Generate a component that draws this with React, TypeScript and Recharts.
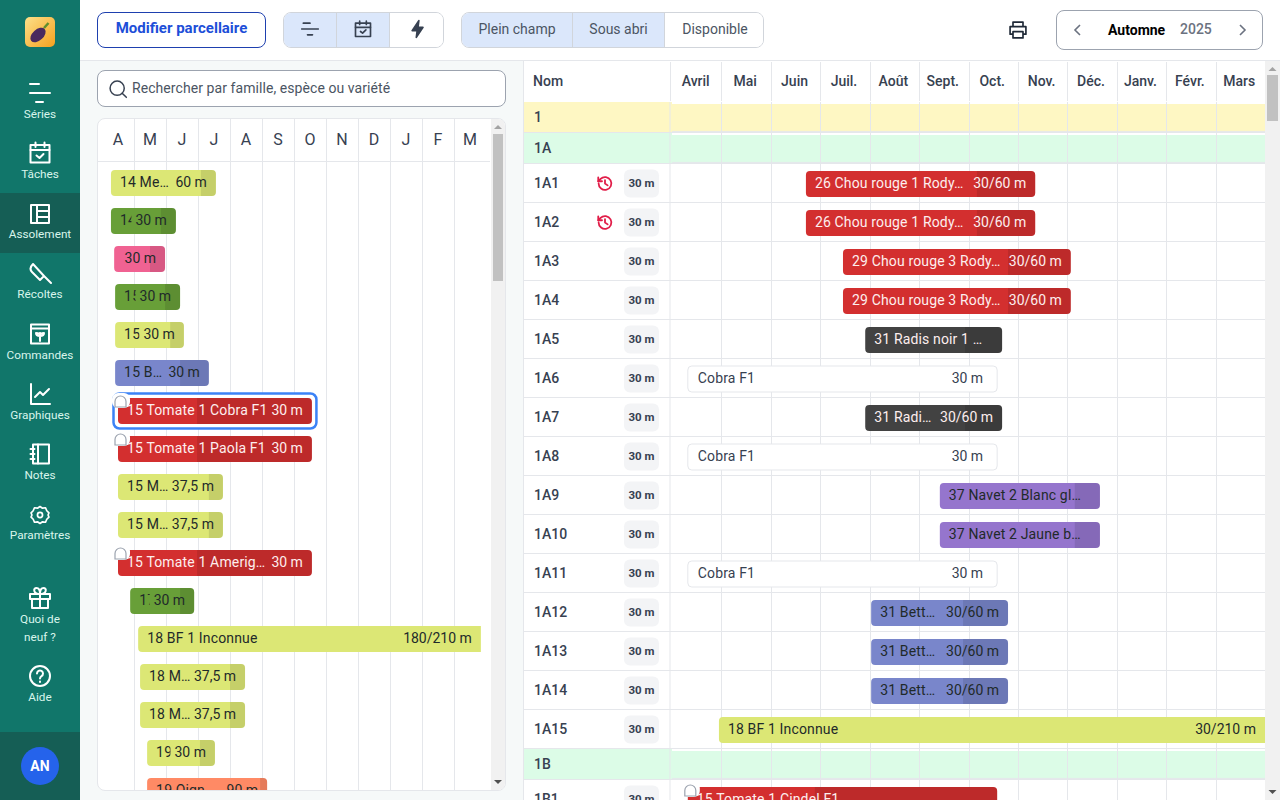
import React from "react";
import { BarChart, Bar, XAxis, YAxis, CartesianGrid } from "recharts";

// left panel: series waiting to be placed, values in months from April
const poolCodes = ["p1", "p2", "p3", "p4", "p5", "p6", "p7", "p8", "p9", "p10", "p11", "p12", "p13", "p14", "p15", "p16", "p17"];
const poolNames = ["14 Me…", "14 Fève 1", "", "15 Fève 2", "15 Mesclun", "15 B…", "15 Tomate 1 Cobra F1", "15 Tomate 1 Paola F1", "15 M…", "15 M…", "15 Tomate 1 Amerig…", "17 Fève 3", "18 BF 1 Inconnue", "18 M…", "18 M…", "19 Mesclun", "19 Oign…"];
const poolLengths = ["60 m", "30 m", "30 m", "30 m", "30 m", "30 m", "30 m", "30 m", "37,5 m", "37,5 m", "30 m", "30 m", "180/210 m", "37,5 m", "37,5 m", "30 m", "90 m"];
const poolCrops = ["lime", "green", "pink", "green", "lime", "blue", "red", "red", "lime", "lime", "red", "green", "lime", "lime", "lime", "lime", "orange"];
const poolStarts = [0.28, 0.28, 0.38, 0.41, 0.41, 0.41, 0.5, 0.5, 0.5, 0.5, 0.5, 0.88, 1.13, 1.19, 1.19, 1.41, 1.41];
const poolEnds = [3.56, 2.31, 1.97, 2.44, 2.56, 3.34, 6.56, 6.56, 3.78, 3.78, 6.56, 2.88, 11.84, 4.47, 4.47, 3.53, 5.16];
const poolHarvests = [3.09, 1.84, 1.5, 1.97, 2.13, 2.44, 2.97, 2.97, 3.34, 3.34, 2.97, 2.44, null, 4.0, 4.0, 3.06, 4.94];
const poolLocked = ["p7", "p8", "p11"];
const poolSelected = "p7";
const poolContinues = ["p13"];

// right panel: beds of block 1A
const bedCodes = ["1A1", "1A2", "1A3", "1A4", "1A5", "1A6", "1A7", "1A8", "1A9", "1A10", "1A11", "1A12", "1A13", "1A14", "1A15"];
const bedNames = ["26 Chou rouge 1 Rody…", "26 Chou rouge 1 Rody…", "29 Chou rouge 3 Rody…", "29 Chou rouge 3 Rody…", "31 Radis noir 1 …", "Cobra F1", "31 Radi…", "Cobra F1", "37 Navet 2 Blanc gl…", "37 Navet 2 Jaune b…", "Cobra F1", "31 Bett…", "31 Bett…", "31 Bett…", "18 BF 1 Inconnue"];
const bedLengths = ["30/60 m", "30/60 m", "30/60 m", "30/60 m", "", "30 m", "30/60 m", "30 m", "", "", "30 m", "30/60 m", "30/60 m", "30/60 m", "30/210 m"];
const bedCrops = ["red", "red", "red", "red", "black", "ghost", "black", "ghost", "purple", "purple", "ghost", "blue", "blue", "blue", "lime"];
const bedStarts = [2.71, 2.71, 3.46, 3.46, 3.91, 0.32, 3.91, 0.32, 5.42, 5.42, 0.32, 4.03, 4.03, 4.03, 0.95];
const bedEnds = [7.35, 7.35, 8.07, 8.07, 6.68, 6.58, 6.68, 6.58, 8.66, 8.66, 6.58, 6.8, 6.8, 6.8, 12];
const bedHarvests = [6.17, 6.17, 6.8, 6.8, 5.93, null, 5.93, null, 8.15, 8.15, null, 5.89, 5.89, 5.89, null];
const bedHistory = ["1A1", "1A2"];
const bedContinues = ["1A15"];

const monthLabels = ["Avril", "Mai", "Juin", "Juil.", "Août", "Sept.", "Oct.", "Nov.", "Déc.", "Janv.", "Févr.", "Mars"];
const monthLetters = ["A", "M", "J", "J", "A", "S", "O", "N", "D", "J", "F", "M"];
const monthTicks = [0, 1, 2, 3, 4, 5, 6, 7, 8, 9, 10, 11];

const cropColors: Record<string, string> = {
  lime: "#dce775",
  green: "#689f38",
  pink: "#f06292",
  blue: "#7986cb",
  red: "#d32f2f",
  orange: "#ff8a65",
  black: "#424242",
  purple: "#9575cd",
  ghost: "#ffffff",
};
const lightText = ["red", "black"];
const font = "Roboto, sans-serif";
const line = "#e5e7eb";
const ink = "#374151";
const spacing = 0.15;

const pool = poolCodes.map((id, i) => ({
  id,
  name: poolNames[i],
  length: poolLengths[i],
  crop: poolCrops[i],
  start: poolStarts[i],
  end: poolEnds[i],
  harvest: poolHarvests[i],
  locked: poolLocked.includes(id),
  selected: id === poolSelected,
  continues: poolContinues.includes(id),
}));

const beds = bedCodes.map((id, i) => ({
  id,
  name: bedNames[i],
  length: bedLengths[i],
  crop: bedCrops[i],
  start: bedStarts[i],
  end: bedEnds[i],
  harvest: bedHarvests[i],
  history: bedHistory.includes(id),
  pill: "30 m",
  continues: bedContinues.includes(id),
}));

const topRows = [
  { id: "1", band: "#fef7c3", start: 0, end: 12 },
  { id: "1A", band: "#dcfce7", start: 0, end: 12 },
];
const blockRows = [{ id: "1B", band: "#dcfce7", start: 0, end: 12 }];
const lastRows = [
  { id: "1B1", name: "15 Tomate 1 Cindel F1", length: "", crop: "red", start: 0.32, end: 6.58, harvest: 2.89, locked: true, pill: "30 m" },
];

const span = (d: any) => [d.start, d.end];

// keeps 1px lines on whole pixels
const crisp = (v: number) => Math.round(v) + 0.5;

let ctx: CanvasRenderingContext2D | null = null;
const textWidth = (s: string) => {
  if (!ctx) ctx = document.createElement("canvas").getContext("2d");
  ctx!.font = "14px Roboto";
  return ctx!.measureText(s).width;
};

// rectangle with only some corners rounded
const roundedPath = (x: number, y: number, w: number, h: number, l: number, r: number) =>
  `M${x + l},${y}H${x + w - r}Q${x + w},${y} ${x + w},${y + r}V${y + h - r}Q${x + w},${y + h} ${x + w - r},${y + h}H${x + l}Q${x},${y + h} ${x},${y + h - l}V${y + l}Q${x},${y} ${x + l},${y}Z`;

function GanttBar(props: any) {
  const { x, y, width, height, payload: d } = props;
  if (d.band) {
    // the grid sits under the bars, so the band repeats the month lines
    return (
      <g>
        <rect x={x} y={y} width={width} height={height + 1} fill={d.band} />
        {monthTicks.slice(1).map((m) => {
          const lineX = crisp(x + (width * m) / 12);
          return <line key={m} x1={lineX} x2={lineX} y1={y} y2={y + height} stroke={line} />;
        })}
        <line x1={x} x2={x + width} y1={y + height - 0.5} y2={y + height - 0.5} stroke={line} />
      </g>
    );
  }
  const ghost = d.crop === "ghost";
  const color = lightText.includes(d.crop) ? "#fdeeee" : ghost ? ink : "#1f2a2a";
  const endRadius = d.continues ? 0 : 4;
  const right = d.length ? textWidth(d.length) : 0;
  const clipEnd = d.length ? x + width - 9 - right - 4 : x + width - 9;
  const clipId = `clip-${d.id}`;
  const harvestX = d.harvest == null ? null : x + (width * (d.harvest - d.start)) / (d.end - d.start);
  const textY = y + height / 2 + 4;
  return (
    <g>
      {d.selected && (
        <rect x={x - 4.5} y={y - 4.5} width={width + 9} height={height + 9} rx={6} fill="#fff" stroke="#3b82f6" strokeWidth={2.5} />
      )}
      <path
        d={roundedPath(x, y, width, height, 4, endRadius)}
        fill={cropColors[d.crop]}
        stroke={ghost ? line : "none"}
      />
      {harvestX != null && (
        <path d={roundedPath(harvestX, y, x + width - harvestX, height, 0, endRadius)} fill="#000" fillOpacity={0.1} />
      )}
      <clipPath id={clipId}>
        <rect x={x} y={y} width={Math.max(clipEnd - x, 0)} height={height} />
      </clipPath>
      <text x={x + (ghost ? 10 : 9)} y={textY} fontSize={14} letterSpacing={spacing} fontFamily={font} fill={color} clipPath={`url(#${clipId})`}>
        {d.name}
      </text>
      {d.length && (
        <text x={x + width - (ghost ? 14 : 9)} y={textY} fontSize={14} fontFamily={font} fill={color} textAnchor="end">
          {d.length}
        </text>
      )}
      {d.locked && (
        <g>
          <rect x={x - 6} y={y - 5} width={18} height={15} rx={6} fill="#fff" />
          <path
            d={`M${x - 3},${y + 9}V${y + 3.5}a5.5,5.5 0 0 1 11,0V${y + 9}Z`}
            fill="#fff"
            stroke="#9ca3af"
            strokeWidth={1.2}
          />
        </g>
      )}
    </g>
  );
}

function HistoryIcon({ x, y }: { x: number; y: number }) {
  return (
    <g transform={`translate(${x - 9},${y - 9}) scale(0.75)`} fill="none" stroke="#e11d48" strokeWidth={2.4} strokeLinecap="round" strokeLinejoin="round">
      <path d="M3.5 12a8.5 8.5 0 1 0 2.6-6.1L3 9" />
      <path d="M3 4v5h5" />
      <path d="M12 7.5V12l3.5 2.5" />
    </g>
  );
}

function BedTick(props: any) {
  const { y, payload, rowHeight, rows, totalWidth } = props;
  const row = rows.find((r: any) => r.id === payload.value);
  const bottom = y + rowHeight / 2 - 0.5;
  return (
    <g>
      {row.band && <rect x={0} y={y - rowHeight / 2} width={NAME_W} height={rowHeight} fill={row.band} />}
      <line x1={0} x2={totalWidth} y1={bottom} y2={bottom} stroke={line} />
      <line x1={NAME_W - 2} x2={NAME_W - 2} y1={y - rowHeight / 2} y2={y + rowHeight / 2} stroke={line} />
      <text x={10} y={y + 4} fontSize={14} fontWeight={500} fontFamily={font} fill={ink} textAnchor="start">
        {row.id}
      </text>
      {row.history && <HistoryIcon x={81} y={y} />}
      {row.pill && (
        <g>
          <rect x={100} y={y - 14} width={35} height={28} rx={6} fill="#f3f4f6" />
          <text x={117.5} y={y + 3} fontSize={11.5} fontWeight={700} fontFamily={font} fill={ink} textAnchor="middle">
            {row.pill}
          </text>
        </g>
      )}
    </g>
  );
}

const NAME_W = 148;
const BED_MONTH = (1265 - 672) / 12;
const BED_W = 1265 - 524;

function MonthTick(props: any) {
  const { x, payload } = props;
  const lineX = crisp(payload.value === 0 ? x - 2 : x);
  return (
    <g>
      <line x1={lineX} x2={lineX} y1={1} y2={40} stroke={line} />
      <text x={x + BED_MONTH / 2 - 1} y={25} fontSize={14} fontWeight={500} fontFamily={font} fill={ink} textAnchor="middle">
        {monthLabels[payload.value]}
      </text>
    </g>
  );
}

function LetterTick(props: any) {
  const { x, payload } = props;
  return (
    <g>
      {payload.value > 0 && <line x1={crisp(x)} x2={crisp(x)} y1={0} y2={45} stroke={line} />}
      <line x1={x - 4} x2={x + 36} y1={42.5} y2={42.5} stroke={line} />
      <text x={x + 16} y={26} fontSize={16} fontFamily={font} fill={ink} textAnchor="middle">
        {monthLetters[payload.value]}
      </text>
    </g>
  );
}

const innerLines =
  (monthWidth: number, left: number) =>
  () =>
    monthTicks.slice(1).map((m) => crisp(left + m * monthWidth));

function BedRows({ rows, rowHeight, months, top }: any) {
  const axisHeight = months ? 41 : 0;
  const height = rows.length * rowHeight + axisHeight;
  const band = !!rows[0].band;
  return (
    <div style={{ position: "absolute", left: 524, top }}>
      <BarChart
        width={BED_W}
        height={height}
        data={rows}
        layout="vertical"
        margin={{ top: 0, right: 0, bottom: 0, left: 0 }}
        barCategoryGap={0}
        barSize={band ? rowHeight : 26}
      >
        <CartesianGrid horizontal={false} stroke={line} verticalCoordinatesGenerator={innerLines(BED_MONTH, NAME_W)} />
        <XAxis
          type="number"
          domain={[0, 12]}
          ticks={monthTicks}
          orientation="top"
          hide={!months}
          height={axisHeight}
          axisLine={false}
          tickLine={false}
          interval={0}
          tick={<MonthTick />}
        />
        <YAxis
          type="category"
          dataKey="id"
          width={NAME_W}
          axisLine={false}
          tickLine={false}
          interval={0}
          tick={<BedTick rowHeight={rowHeight} rows={rows} totalWidth={BED_W} />}
        />
        <Bar dataKey={span} isAnimationActive={false} shape={(p: any) => <GanttBar {...p} />} />
      </BarChart>
    </div>
  );
}

function PoolChart() {
  return (
    <div style={{ position: "absolute", left: 97, top: 118, width: 407, height: 671, background: "#fff", border: `1px solid ${line}`, borderRadius: 8, overflow: "hidden" }}>
      <BarChart
        width={393}
        height={45 + pool.length * 38}
        data={pool}
        layout="vertical"
        margin={{ top: 0, right: 5, bottom: 0, left: 4 }}
        barCategoryGap={0}
        barSize={26}
      >
        <CartesianGrid horizontal={false} stroke={line} verticalCoordinatesGenerator={innerLines(32, 4)} />
        <XAxis
          type="number"
          domain={[0, 12]}
          ticks={monthTicks}
          orientation="top"
          height={45}
          axisLine={false}
          tickLine={false}
          interval={0}
          tick={<LetterTick />}
        />
        <YAxis type="category" dataKey="id" hide />
        <Bar dataKey={span} isAnimationActive={false} shape={(p: any) => <GanttBar {...p} />} />
      </BarChart>
      <Scrollbar left={393} top={0} width={14} height={671} thumbTop={15} thumbHeight={147} />
    </div>
  );
}

function Scrollbar({ left, top, width, height, thumbTop, thumbHeight }: any) {
  return (
    <div style={{ position: "absolute", left, top, width, height, background: "#f1f1f1" }}>
      <div style={{ position: "absolute", left: 2, right: 2, top: thumbTop, height: thumbHeight, background: "#c1c1c1" }} />
      <svg style={{ position: "absolute", left: 0, top: 0 }} width={width} height={height}>
        <path d={`M${width / 2 - 4},10 l4,-4 l4,4Z`} fill="#a3a3a3" />
        <path d={`M${width / 2 - 4},${height - 10} l4,4 l4,-4Z`} fill="#505050" />
      </svg>
    </div>
  );
}

const navIcons: Record<string, React.ReactNode> = {
  Séries: <path d="M2 3h9M2 12h20M8 21h7" />,
  Tâches: (
    <>
      <rect x="2.5" y="4" width="19" height="17.5" />
      <path d="M2.5 9h19M7.5 1.5v4.5M16.5 1.5v4.5M8.5 14.5l3 2.5 4-4" />
    </>
  ),
  Assolement: (
    <>
      <rect x="3" y="3" width="18" height="18" />
      <path d="M9 3v18M9 9h12M9 15h12" />
    </>
  ),
  Récoltes: <path d="M5 2c-3 3-3 6-1 8l8 8 4-4ZM15 13l8 8" />,
  Commandes: (
    <>
      <rect x="3" y="2.5" width="18" height="19" />
      <path d="M3 6.5h18M12 19v-8M12 14c-3 0-4-1-4-3 3 0 4 1 4 3ZM12 14c3 0 4-1 4-3-3 0-4 1-4 3Z" />
    </>
  ),
  Graphiques: <path d="M3 2v20h19M7 15l5-5 3 3 6-6" />,
  Notes: (
    <>
      <rect x="5" y="2.5" width="16" height="19" />
      <path d="M10 2.5v19M2.5 7h4M2.5 12h4M2.5 17h4" />
    </>
  ),
  Paramètres: (
    <g transform="translate(1.8 1.8) scale(0.85)">
      <path d="M12 2l3 2 3.500-.500 1.500 3.500 2.500 2.500-1 2.500 1 2.500-2.500 2.500-1.500 3.500-3.500-.500-3 2-3-2-3.500.500-1.500-3.500-2.500-2.500 1-2.500-1-2.500 2.500-2.500 1.500-3.500 3.500.500Z" />
      <circle cx="12" cy="12" r="3" />
    </g>
  ),
  gift: (
    <>
      <rect x="2" y="8" width="20" height="5" />
      <path d="M4 13v9h16v-9M12 8v14M12 8c-7 0-7-6-3.500-6 2.500 0 3.500 3 3.500 6ZM12 8c7 0 7-6 3.500-6C13 2 12 5 12 8Z" />
    </>
  ),
  Aide: (
    <>
      <circle cx="12" cy="12" r="10" />
      <path d="M9 9.500a3 3 0 1 1 4.500 2.600c-1 .6-1.500 1-1.500 2.400M12 17.500v.5" />
    </>
  ),
};

const navItems = [
  { key: "Séries", label: ["Séries"], y: 93, labelY: 107 },
  { key: "Tâches", label: ["Tâches"], y: 153, labelY: 167 },
  { key: "Assolement", label: ["Assolement"], y: 214, labelY: 227 },
  { key: "Récoltes", label: ["Récoltes"], y: 274, labelY: 287 },
  { key: "Commandes", label: ["Commandes"], y: 334, labelY: 348 },
  { key: "Graphiques", label: ["Graphiques"], y: 394, labelY: 408 },
  { key: "Notes", label: ["Notes"], y: 454, labelY: 468 },
  { key: "Paramètres", label: ["Paramètres"], y: 515, labelY: 528 },
  { key: "gift", label: ["Quoi de", "neuf ?"], y: 598, labelY: 612 },
  { key: "Aide", label: ["Aide"], y: 676, labelY: 690 },
];

function Sidebar() {
  return (
    <div style={{ position: "absolute", left: 0, top: 0, width: 80, height: 800, background: "#11766a", fontFamily: font }}>
      <div style={{ position: "absolute", left: 0, top: 193, width: 80, height: 60, background: "#155e55" }} />
      <svg style={{ position: "absolute", left: 25, top: 17 }} width={30} height={30}>
        <defs>
          <linearGradient id="logo" x1="0" y1="0" x2="1" y2="1">
            <stop offset="0" stopColor="#fce08a" />
            <stop offset="1" stopColor="#f7a11e" />
          </linearGradient>
        </defs>
        <rect width={30} height={30} rx={5} fill="url(#logo)" />
        <ellipse cx={13} cy={18} rx={9} ry={5.5} transform="rotate(-42 13 18)" fill="#4a2a5e" />
        <path d="M19 11l4.500-5" stroke="#5f8f2e" strokeWidth={2.5} />
      </svg>
      {navItems.map((item) => (
        <div key={item.key}>
          <svg
            style={{ position: "absolute", left: 28, top: item.y - 12 }}
            width={24}
            height={24}
            viewBox="0 0 24 24"
            fill="none"
            stroke="#fff"
            strokeWidth={2}
            strokeLinecap="round"
            strokeLinejoin="round"
          >
            {navIcons[item.key]}
          </svg>
          {item.label.map((t, i) => (
            <div
              key={t}
              style={{ position: "absolute", left: 0, width: 80, top: item.labelY + i * 18, textAlign: "center", fontSize: 11.75, lineHeight: "14px", color: "#d9f5ec" }}
            >
              {t}
            </div>
          ))}
        </div>
      ))}
      <div style={{ position: "absolute", left: 0, top: 732, width: 80, height: 68, background: "#155e55" }} />
      <div style={{ position: "absolute", left: 21, top: 747, width: 38, height: 38, borderRadius: 19, background: "#2563eb", color: "#fff", fontWeight: 700, fontSize: 14, lineHeight: "38px", textAlign: "center" }}>
        AN
      </div>
    </div>
  );
}

function Segments({ left, width, cuts, on, children }: any) {
  const edges = [0, ...cuts, width];
  return (
    <div style={{ position: "absolute", left, top: 12, width, height: 36, boxSizing: "border-box", border: "1px solid #d1d5db", borderRadius: 8, overflow: "hidden", background: "#fff" }}>
      {edges.slice(0, -1).map((e: number, i: number) => (
        <div
          key={e}
          style={{ position: "absolute", left: e, top: 0, height: 34, paddingBottom: 2, width: edges[i + 1] - e, background: i < on ? "#dbe7fb" : "#fff", borderLeft: i ? "1px solid #d1d5db" : "none", boxSizing: "border-box", display: "flex", alignItems: "center", justifyContent: "center", color: "#4b5563", fontSize: 14 }}
        >
          {children[i]}
        </div>
      ))}
    </div>
  );
}

const toolIcon = (d: React.ReactNode) => (
  <svg width={20} height={20} viewBox="0 0 24 24" fill="none" stroke="#374151" strokeWidth={2} strokeLinecap="round" strokeLinejoin="round">
    {d}
  </svg>
);

function Toolbar() {
  return (
    <div style={{ fontFamily: font }}>
      <div style={{ position: "absolute", left: 97, top: 12, width: 169, height: 36, boxSizing: "border-box", border: "1.5px solid #1e40af", borderRadius: 8, color: "#1d4ed8", fontWeight: 700, fontSize: 15, lineHeight: "31px", textAlign: "center" }}>
        Modifier parcellaire
      </div>
      <Segments left={283} width={161} cuts={[52, 105]} on={2}>
        {[
          toolIcon(<path d="M4 5h8M2 12h20M9 19h6" />),
          toolIcon(
            <>
              <rect x="3" y="5" width="18" height="16" />
              <path d="M3 10h18M8 2.500v4M16 2.500v4M9 15l2.500 2 4-4" />
            </>
          ),
          toolIcon(<path d="M13 2L5 14h6l-1 8 8-12h-6Z" fill="#374151" />),
        ]}
      </Segments>
      <Segments left={461} width={303} cuts={[110, 202]} on={2}>
        {["Plein champ", "Sous abri", "Disponible"]}
      </Segments>
      <svg style={{ position: "absolute", left: 1008, top: 20 }} width={20} height={20} viewBox="0 0 24 24" fill="none" stroke="#1f2937" strokeWidth={2} strokeLinejoin="round">
        <path d="M6 8V2.500h12V8M6 17H2.500V8h19v9H18" />
        <rect x="6" y="14" width="12" height="7.500" />
      </svg>
      <div style={{ position: "absolute", left: 1056, top: 10, width: 207, height: 40, boxSizing: "border-box", border: "1px solid #9ca3af", borderRadius: 8 }}>
        <svg style={{ position: "absolute", left: 0, top: 0 }} width={205} height={38} fill="none" stroke="#6b7280" strokeWidth={1.6}>
          <path d="M23 14l-5 5 5 5M183 14l5 5-5 5" />
        </svg>
        <span style={{ position: "absolute", left: 51, top: 10, fontSize: 14, lineHeight: "18px", fontWeight: 700, color: "#000" }}>Automne</span>
        <span style={{ position: "absolute", left: 123, top: 9, fontSize: 14, lineHeight: "18px", fontWeight: 500, color: "#6b7280" }}>2025</span>
      </div>
    </div>
  );
}

export default function App() {
  return (
    <div style={{ position: "fixed", left: 0, top: 0, width: 1280, height: 800, overflow: "hidden", background: "#fff", fontFamily: font }}>
      <Sidebar />
      <Toolbar />
      <div style={{ position: "absolute", left: 80, top: 60, width: 1200, height: 1, background: line }} />
      <div style={{ position: "absolute", left: 80, top: 61, width: 443, height: 739, background: "#f6f9f9", borderRight: `1px solid ${line}` }} />
      <div style={{ position: "absolute", left: 97, top: 70, width: 409, height: 37, boxSizing: "border-box", background: "#fff", border: "1px solid #9ca3af", borderRadius: 8, color: "#4b5563", fontSize: 14, letterSpacing: 0.07, lineHeight: "35px", paddingLeft: 34 }}>
        Rechercher par famille, espèce ou variété
        <svg style={{ position: "absolute", left: 10, top: 8 }} width={20} height={20} viewBox="0 0 24 24" fill="none" stroke="#374151" strokeWidth={1.8} strokeLinecap="round">
          <circle cx="11" cy="11" r="8.500" />
          <path d="M17 17l5 5" />
        </svg>
      </div>
      <PoolChart />
      <div style={{ position: "absolute", left: 533, top: 72, fontSize: 14, lineHeight: "18px", fontWeight: 500, color: ink, zIndex: 2 }}>Nom</div>
      <BedRows rows={topRows} rowHeight={31} months top={61} />
      <BedRows rows={beds} rowHeight={39} top={164} />
      <BedRows rows={blockRows} rowHeight={31} top={749} />
      <BedRows rows={lastRows} rowHeight={39} top={780} />
      <Scrollbar left={1265} top={61} width={15} height={739} thumbTop={14} thumbHeight={46} />
    </div>
  );
}
